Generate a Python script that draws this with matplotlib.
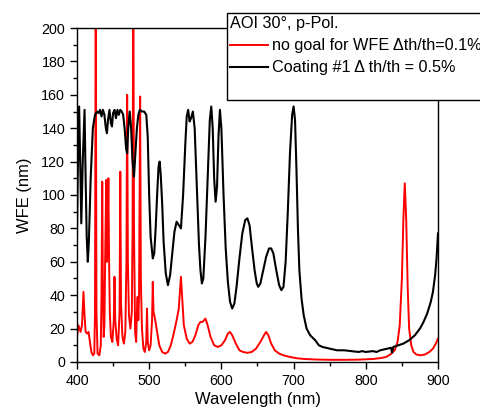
import matplotlib
matplotlib.use("Agg")
import matplotlib.pyplot as plt
from matplotlib.lines import Line2D
from matplotlib.ticker import MultipleLocator

plt.rcParams['font.family'] = ['Liberation Sans', 'DejaVu Sans']

# Coating #1, dth/th = 0.5%
black_wl = [400, 401, 403, 404.5, 406, 408, 410.5, 412, 413.5, 415, 416.5, 419, 422, 425,
            428, 430, 432, 434, 436, 438, 440, 441.5, 443, 445, 447, 448.5, 450, 452, 454,
            456, 458, 460, 462, 464, 466, 468, 469.5, 471, 473, 475, 477, 479, 481, 483,
            485, 487, 490, 493, 496, 498, 500, 502, 505, 507, 509, 511, 513, 514.5, 516,
            518, 520, 523, 526, 529, 532, 535, 538, 541, 544, 547, 550, 552, 554, 556, 558,
            560.5, 563, 566, 569, 571, 573, 575, 578, 581, 584, 586, 588, 590, 592, 594,
            596, 598, 600, 603, 606, 609, 612, 615, 618, 621, 625, 629, 633, 636, 639, 642,
            646, 649, 651, 654, 658, 662, 666, 669, 672, 676, 680, 683, 686, 689, 692, 695,
            698, 700, 702, 704, 706, 708, 711, 714, 718, 723, 730, 735, 740, 750, 760, 770,
            780, 790, 795, 800, 810, 815, 820, 830, 835, 836.5, 838, 845, 852, 860, 868,
            875, 880, 885, 890, 893, 896, 898, 900]
black_wfe = [72, 110, 153, 120, 83, 120, 151, 110, 75, 60, 72, 110, 140, 148,
             150, 149, 151, 147, 151, 148, 140, 137, 145, 151, 143, 141, 149, 151, 146,
             151, 148, 151, 150, 148, 140, 128, 125, 140, 150, 140, 120, 111, 125, 140,
             148, 151, 150, 150, 148, 135, 100, 75, 62, 65, 80, 100, 117, 120, 112,
             95, 72, 53, 46, 52, 65, 78, 84, 82, 80, 100, 130, 147, 151, 144, 146,
             150, 140, 105, 70, 55, 47, 50, 75, 110, 145, 153, 140, 110, 96, 105,
             135, 151, 140, 100, 68, 48, 36, 32, 35, 45, 62, 77, 85, 86, 82, 70,
             55, 47, 45, 47, 55, 63, 68, 68, 65, 55, 46, 43, 45, 60, 90, 125,
             148, 153, 145, 115, 80, 55, 38, 28, 20, 16, 13, 10, 9, 8, 7, 7,
             6.5, 6, 6.5, 6, 6.5, 6, 7, 8, 8.5, 5.5, 9, 10, 11, 13, 16,
             20, 24, 29, 36, 42, 52, 62, 77]

# no goal for WFE, dth/th = 0.1%
red_wl = [400, 402, 403.5, 405, 407, 409, 410.5, 412, 414, 416, 418, 420, 422, 424, 425,
          426, 427, 428.5, 431, 433, 434, 435, 436, 437, 438, 439, 440.5, 441.5, 442.5,
          443.5, 444.5, 445.5, 447, 449, 451, 452, 453, 455, 457, 459, 460, 461, 463, 465,
          467, 468.5, 469.5, 470.5, 472, 474, 476, 477, 478, 479, 480.5, 482, 483, 484,
          485, 486, 487.5, 488.5, 490, 492, 494, 496, 497, 498, 500, 502, 504, 505, 506,
          508, 511, 514, 518, 522, 526, 530, 534, 538, 541, 543, 544, 545.5, 548, 552,
          556, 560, 564, 568, 571, 574, 578, 581, 585, 590, 595, 600, 605, 609, 612, 615,
          620, 625, 630, 636, 642, 648, 654, 659, 662, 665, 669, 674, 680, 686, 695, 705,
          715, 730, 750, 770, 790, 810, 820, 828, 834, 840, 844, 847, 850, 852, 854, 856,
          858, 860, 863, 866, 870, 876, 882, 888, 893, 897, 900]
red_wfe = [15, 22, 20, 18, 22, 42, 28, 18, 17, 18, 12, 6, 4, 5, 30,
           240, 30, 5, 4, 10, 40, 108, 40, 15, 22, 60, 109, 60, 75,
           110, 60, 30, 15, 12, 25, 51, 25, 14, 10, 30, 114, 35, 15, 11,
           18, 60, 160, 60, 28, 20, 30, 80, 240, 80, 18, 12, 30, 39,
           25, 40, 159, 50, 20, 8, 6, 12, 32, 12, 7, 10, 25, 48, 30,
           26, 18, 10, 6, 5, 6, 10, 17, 25, 32, 45, 51, 40, 22, 14,
           11, 12, 16, 22, 24, 24, 26, 22, 15, 10, 9, 10, 13, 17, 18, 16,
           11, 7, 6, 5.5, 6, 8, 12, 16, 18, 16, 11, 7, 5, 4, 3, 2.2,
           1.8, 1.5, 1.3, 1.3, 1.4, 1.8, 2.3, 3, 4.5, 7, 12, 22, 50, 85, 107, 85,
           45, 20, 10, 6, 4.5, 4, 4.5, 6, 8, 11, 14]

legend_title = "AOI 30°, p-Pol."
red_label = "no goal for WFE \u0394th/th=0.1%"
black_label = "Coating #1 \u0394 th/th = 0.5%"

fig = plt.figure(figsize=(4.81, 4.12), dpi=100)
ax = fig.add_axes([0.160, 0.1214, 0.7506, 0.8106])

red_line, = ax.plot(red_wl, red_wfe, color='#ff0000', linewidth=1.4)
black_line, = ax.plot(black_wl, black_wfe, color='black', linewidth=1.5)

ax.set_xlim(400, 900)
ax.set_ylim(0, 200)
ax.xaxis.set_major_locator(MultipleLocator(100))
ax.xaxis.set_minor_locator(MultipleLocator(50))
ax.yaxis.set_major_locator(MultipleLocator(20))
ax.yaxis.set_minor_locator(MultipleLocator(10))
ax.tick_params(which='both', direction='out', labelsize=10.3, width=1)
ax.tick_params(which='major', length=5)
ax.tick_params(which='minor', length=3)
for s in ax.spines.values():
    s.set_linewidth(1)

ax.set_xlabel("Wavelength (nm)", fontsize=11.9, labelpad=3)
ax.set_ylabel("WFE (nm)", fontsize=11.9, labelpad=7)

blank = Line2D([], [], linestyle='none')
leg = ax.legend([red_line, black_line, blank], [red_label, black_label, " "],
                title=legend_title, alignment='left', loc='upper left',
                bbox_to_anchor=(227 / 481, 1 - 13 / 412), bbox_transform=fig.transFigure,
                fontsize=11.7, title_fontsize=11.7, frameon=True, fancybox=False,
                framealpha=1, edgecolor='black', borderpad=0.2, borderaxespad=0,
                handlelength=2.3, handletextpad=0.3, labelspacing=0.43)
leg.get_frame().set_linewidth(1)
leg.set_zorder(10)

fig.savefig("out.png", dpi=100)
